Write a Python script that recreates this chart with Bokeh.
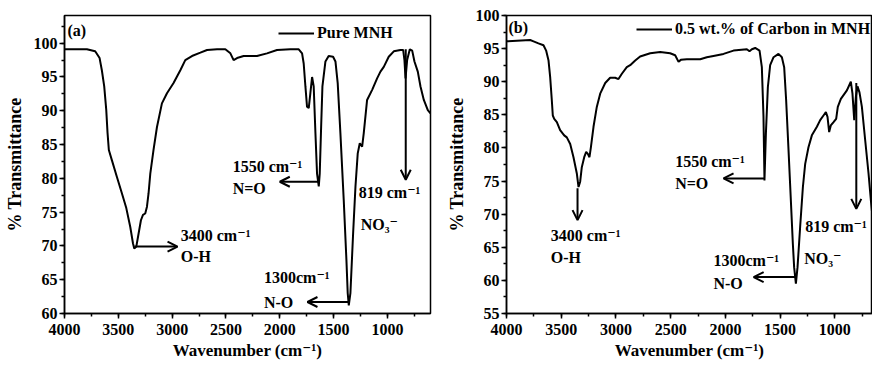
from bokeh.plotting import figure
from bokeh.layouts import row
from bokeh.models import (Range1d, SingleIntervalTicker, Label, Arrow, OpenHead,
                          Legend, LegendItem)
from bokeh.embed import file_html
from bokeh.resources import INLINE

FONT = "Liberation Serif, DejaVu Serif"

# ---------------- data: panel (a) Pure MNH ----------------
wn_a = [4000, 3792, 3715, 3674, 3653, 3631, 3612, 3600, 3588, 3560, 3513, 3467, 3426,
        3389, 3364, 3352, 3333, 3312, 3290, 3271, 3250, 3234, 3219, 3203, 3173, 3141,
        3095, 3048, 2987, 2924, 2878, 2816, 2738, 2676, 2583, 2506, 2459, 2429, 2397,
        2336, 2212, 2119, 2026, 1902, 1824, 1793, 1778, 1762, 1747, 1731, 1716, 1700,
        1685, 1669, 1654, 1638, 1629, 1616, 1604, 1576, 1546, 1505, 1483, 1462, 1437,
        1406, 1381, 1369, 1359, 1344, 1319, 1297, 1276, 1257, 1235, 1220, 1189, 1142,
        1096, 1065, 1034, 988, 941, 879, 854, 842, 832, 817, 792, 770, 749, 718, 693,
        662, 625, 600]
tr_a = [99.1, 99.1, 98.8, 97.8, 96.0, 93.6, 90.1, 86.7, 84.2, 82.7, 80.2, 77.8, 75.6,
        72.8, 70.4, 69.6, 69.9, 71.8, 73.8, 74.6, 74.8, 75.8, 77.8, 80.7, 84.2, 87.6,
        91.1, 92.6, 94.1, 96.0, 97.5, 98.1, 98.6, 99.0, 99.1, 99.1, 98.5, 97.5, 97.8,
        98.1, 98.1, 98.5, 99.0, 99.1, 99.1, 98.5, 97.0, 93.6, 90.6, 90.4, 92.6, 95.0,
        93.6, 86.7, 80.7, 78.8, 80.7, 87.6, 93.6, 97.3, 98.1, 98.0, 97.3, 94.1, 86.7,
        76.8, 67.9, 63.0, 61.2, 63.0, 71.8, 78.8, 83.7, 85.2, 84.7, 86.7, 91.6, 93.1,
        94.8, 95.8, 96.5, 98.0, 98.8, 99.0, 99.0, 97.5, 94.8, 97.5, 99.1, 98.9, 97.3,
        95.8, 93.6, 91.6, 90.1, 89.6]

# ---------------- data: panel (b) 0.5 wt.% of Carbon in MNH ----------------
wn_b = [4000, 3784, 3753, 3708, 3662, 3638, 3616, 3601, 3586, 3577, 3564, 3540, 3510,
        3473, 3449, 3418, 3388, 3357, 3342, 3327, 3312, 3290, 3272, 3257, 3242, 3229,
        3205, 3175, 3144, 3098, 3053, 3007, 2977, 2946, 2901, 2870, 2824, 2779, 2687,
        2596, 2505, 2459, 2428, 2407, 2352, 2230, 2170, 2109, 2017, 1926, 1804, 1780,
        1758, 1728, 1688, 1667, 1652, 1643, 1630, 1612, 1591, 1560, 1515, 1484, 1463,
        1445, 1423, 1402, 1384, 1372, 1356, 1341, 1317, 1292, 1271, 1241, 1210, 1164,
        1134, 1104, 1082, 1067, 1052, 1037, 1012, 988, 973, 945, 890, 854, 839, 823,
        808, 793, 775, 753, 723, 692, 671, 653]
tr_b = [96.1, 96.3, 96.1, 95.8, 95.5, 94.7, 93.2, 90.7, 87.2, 84.9, 84.4, 83.9, 82.7,
        81.9, 81.6, 80.6, 78.6, 76.1, 74.1, 74.9, 77.1, 78.6, 79.4, 79.1, 78.6, 80.1,
        83.2, 86.2, 88.2, 89.8, 90.6, 90.6, 90.4, 91.2, 92.2, 92.5, 93.2, 93.8, 94.3,
        94.5, 94.3, 94.0, 93.0, 93.3, 93.4, 93.4, 93.7, 93.9, 94.2, 94.7, 94.9, 94.6,
        94.9, 95.1, 94.7, 92.2, 84.7, 75.1, 82.2, 89.2, 92.5, 93.7, 94.2, 93.7, 92.2,
        87.2, 79.6, 72.1, 65.6, 62.0, 59.5, 62.0, 68.1, 74.1, 77.6, 80.1, 81.9, 83.2,
        84.2, 84.9, 85.4, 84.7, 82.4, 83.4, 83.9, 84.4, 86.2, 87.4, 88.7, 90.0, 88.2,
        84.2, 87.7, 89.3, 88.4, 86.2, 81.2, 76.1, 72.1, 69.1]

# axis texts
x_title = "Wavenumber (cm\u207b\u00b9)"
y_title = "% Transmittance"

# annotations: (text, x, y)
texts_a = [("3400 cm\u207b\u00b9", 2920, 71.6), ("O-H", 2920, 68.4),
           ("1550 cm\u207b\u00b9", 2438, 81.7), ("N=O", 2438, 78.5),
           ("1300cm\u207b\u00b9", 2147, 65.4), ("N-O", 2147, 61.7),
           ("819 cm\u207b\u00b9", 1267, 77.9), ("NO\u2083\u207b", 1248, 73.1)]
arrows_a = [(3350, 69.9, 2950, 69.9), (1636, 79.5, 2000, 79.5),
            (1357, 61.7, 1743, 61.7), (830, 99.1, 830, 79.8)]
texts_b = [("3400 cm\u207b\u00b9", 3595, 66.8), ("O-H", 3595, 63.5),
           ("1550 cm\u207b\u00b9", 2459, 77.9), ("N=O", 2459, 74.7),
           ("1300cm\u207b\u00b9", 2109, 63.0), ("N-O", 2109, 59.6),
           ("819 cm\u207b\u00b9", 1271, 68.1), ("NO\u2083\u207b", 1280, 63.3)]
arrows_b = [(3351, 73.9, 3351, 69.1), (1643, 75.4, 2017, 75.4),
            (1356, 60.5, 1742, 60.5), (804, 89.8, 804, 70.8)]


def make_panel(wn, tr, xr, yr, width, height, borders, legend_label, legend_loc,
               tag, tag_loc, texts, arrows):
    p = figure(width=width, height=height, x_range=Range1d(*xr), y_range=Range1d(*yr),
               output_backend="svg", toolbar_location=None,
               min_border_left=borders[0], min_border_right=borders[1],
               min_border_top=borders[2], min_border_bottom=borders[3])
    p.xgrid.visible = False
    p.ygrid.visible = False
    p.outline_line_color = "black"
    p.outline_line_width = 1.5
    p.outline_line_alpha = 1
    p.background_fill_color = "white"
    p.border_fill_color = "white"

    r = p.line(wn, tr, line_color="black", line_width=2)

    p.xaxis.ticker = SingleIntervalTicker(interval=500, num_minor_ticks=2)
    p.yaxis.ticker = SingleIntervalTicker(interval=5, num_minor_ticks=2)
    for ax in (p.xaxis, p.yaxis):
        ax.axis_line_width = 1.5
        ax.axis_line_color = "black"
        ax.major_tick_line_width = 1.5
        ax.minor_tick_line_width = 1.5
        ax.major_tick_out = 5
        ax.major_tick_in = 0
        ax.minor_tick_out = 3
        ax.minor_tick_in = 0
        ax.major_label_text_font = FONT
        ax.major_label_text_font_style = "bold"
        ax.major_label_text_font_size = "16px"
        ax.major_label_text_color = "black"
        ax.axis_label_text_font = FONT
        ax.axis_label_text_font_style = "bold"
        ax.axis_label_text_color = "black"
    p.xaxis.major_label_standoff = 5
    p.yaxis.major_label_standoff = 2
    p.xaxis.axis_label = x_title
    p.xaxis.axis_label_text_font_size = "17px"
    p.xaxis.axis_label_standoff = 3
    p.yaxis.axis_label = y_title
    p.yaxis.axis_label_text_font_size = "18px"
    p.yaxis.axis_label_standoff = 6

    legend = Legend(items=[LegendItem(label=legend_label, renderers=[r])],
                    location=legend_loc, glyph_width=36, glyph_height=20,
                    label_height=20, label_standoff=3, padding=0, margin=0,
                    border_line_alpha=0, background_fill_alpha=0,
                    label_text_font=FONT, label_text_font_style="bold",
                    label_text_font_size="16px", label_text_color="black")
    p.add_layout(legend)

    p.add_layout(Label(x=tag_loc[0], y=tag_loc[1], x_units="screen", y_units="screen",
                       text=tag, text_font=FONT, text_font_style="bold",
                       text_font_size="16px", text_baseline="middle",
                       text_color="black"))

    for t, x, y in texts:
        p.add_layout(Label(x=x, y=y, text=t, text_font=FONT, text_font_style="bold",
                           text_font_size="16px", text_baseline="middle",
                           text_align="left", text_color="black"))
    for x0, y0, x1, y1 in arrows:
        p.add_layout(Arrow(x_start=x0, y_start=y0, x_end=x1, y_end=y1,
                           line_color="black", line_width=2,
                           end=OpenHead(size=10, line_width=2, line_color="black")))
    return p


pa = make_panel(wn_a, tr_a, (4000, 600), (60, 104.1), 437, 364, (64, 7, 15, 51),
                "Pure MNH", (214, 270), "(a)", (3, 283), texts_a, arrows_a)
pb = make_panel(wn_b, tr_b, (4000, 656), (55, 100), 435, 364, (69, 0, 15, 50),
                "0.5 wt.% of Carbon in MNH", (130, 274), "(b)", (2, 286), texts_b, arrows_b)

layout = row(pa, pb)
open("out.html", "w").write(file_html(layout, INLINE))
